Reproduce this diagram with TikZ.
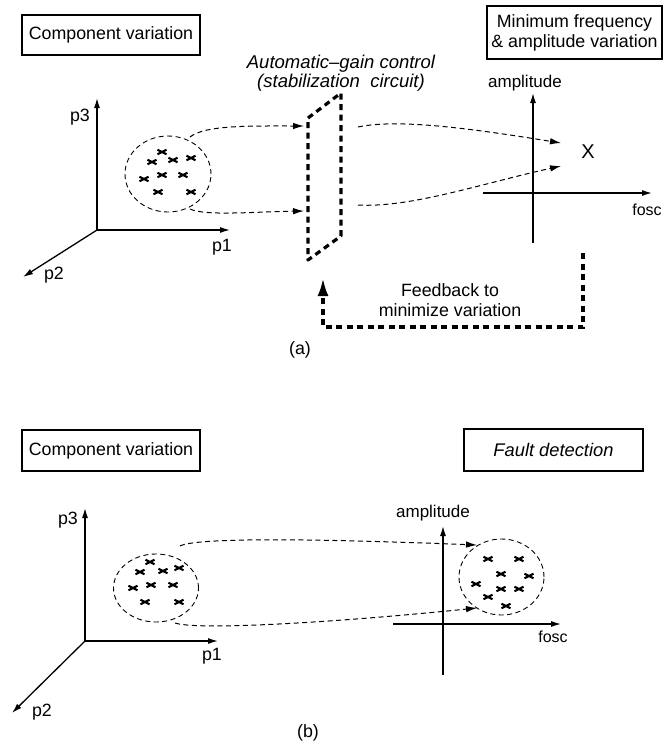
\documentclass[tikz,border=0pt]{standalone}
\usepackage{fontspec}
\setmainfont{Liberation Sans}
\usetikzlibrary{arrows.meta,shapes.geometric}
\begin{document}
\begin{tikzpicture}[x=1pt,y=-1pt,
  txt/.style={font=\fontsize{17.8}{20}\selectfont, inner sep=0pt, align=center},
  itx/.style={font=\fontsize{18.5}{19}\selectfont\itshape, inner sep=0pt, align=center},
  labelbox/.style={draw, line width=1.2pt, font=\fontsize{17.8}{20}\selectfont, align=center, inner sep=0pt},
  axis/.style={line width=1.3pt, -{Latex[length=10pt,width=6pt]}},
  cloud/.style={draw, ellipse, dash pattern=on 5pt off 3.5pt, line width=0.9pt, inner sep=0pt},
  flow/.style={line width=1pt, dash pattern=on 5pt off 3.5pt, -{Latex[length=11pt,width=6.5pt]}},
  agc/.style={line width=3.2pt, dash pattern=on 6pt off 4.5pt},
  bowtie/.pic={\draw[line width=2.1pt] (-4.5,-2.3)--(4.5,2.3) (-4.5,2.3)--(4.5,-2.3);}
]
\useasboundingbox (0,0) rectangle (672,748);

% ================= (a) =================
\node[labelbox, minimum width=178pt, minimum height=40pt] (cva) at (111,35) {Component variation};
\node[labelbox, minimum width=175pt, minimum height=53pt] (mfa) at (574.5,32.5) {Minimum frequency\\\& amplitude variation};

% 3D parameter axes
\coordinate (oa) at (97,230);
\coordinate (p3a) at (97,98);
\coordinate (p1a) at (230,230);
\coordinate (p2a) at (23,277);
\draw[axis] (oa) -- (p3a);
\draw[axis] (oa) -- (p1a);
\draw[axis] (oa) -- (p2a);
\node[txt] (lp3a) at (80,117) {p3};
\node[txt] (lp1a) at (222,247) {p1};
\node[txt] (lp2a) at (54,275) {p2};

% cluster
\node[cloud, minimum width=86pt, minimum height=76pt] (ca) at (168,174) {};
\foreach \px/\py in {162/152,152/162,173/160,191/158,144/179,162/175,183/175,158/192,191/192}
  \pic at (\px,\py) {bowtie};

% AGC plane
\coordinate (ptl) at (308,118);
\coordinate (ptr) at (341,93);
\coordinate (pbr) at (341,236);
\coordinate (pbl) at (308,260);
\draw[agc, line join=round] (ptl) -- (ptr) -- (pbr) -- (pbl) -- cycle;
\node[itx] (agcl) at (341,73) {Automatic--gain control\\(stabilization\ \ circuit)};

% flows into the AGC
\coordinate (s1) at (190,137);
\coordinate (e1) at (304,126);
\coordinate (s2) at (190,209);
\coordinate (e2) at (304,211);
\draw[flow] (s1) .. controls (205,125) and (250,126) .. (e1);
\draw[flow] (s2) .. controls (205,216) and (250,212) .. (e2);

% flows out of the AGC
\coordinate (s3) at (358,127);
\coordinate (e3) at (561,143);
\coordinate (s4) at (358,205);
\coordinate (e4) at (561,166);
\draw[flow] (s3) .. controls (400,118) and (480,130) .. (e3);
\draw[flow] (s4) .. controls (410,208) and (480,184) .. (e4);

% output axes
\coordinate (qa0) at (533,243);
\coordinate (qa1) at (533,93);
\coordinate (ha0) at (483,193);
\coordinate (ha1) at (652,193);
\draw[axis] (qa0) -- (qa1);
\draw[axis] (ha0) -- (ha1);
\node[txt, font=\fontsize{17}{20}\selectfont] (ampa) at (525,83) {amplitude};
\node[txt, font=\fontsize{16}{20}\selectfont] (fosca) at (647,210) {fosc};
\node[inner sep=0pt, font=\fontsize{20}{20}\selectfont] (xm) at (588,152) {X};

% feedback
\coordinate (fb0) at (583,253);
\coordinate (fb1) at (583,327);
\coordinate (fb2) at (323,327);
\coordinate (fb3) at (323,278);
\draw[agc, -{Latex[length=18pt,width=11pt]}] (fb0) -- (fb1) -- (fb2) -- (fb3);
\node[txt] (fbt) at (450,300) {Feedback to\\minimize variation};

\node[txt] (capa) at (300,350) {(a)};

% ================= (b) =================
\node[labelbox, minimum width=178pt, minimum height=41pt] (cvb) at (111,450.5) {Component variation};
\node[labelbox, minimum width=179pt, minimum height=42pt, font=\fontsize{18.3}{20}\selectfont\itshape] (fdb) at (553.5,450) {Fault detection};

\coordinate (ob) at (85,641);
\coordinate (p3b) at (85,508);
\coordinate (p1b) at (218,641);
\coordinate (p2b) at (12,713);
\draw[axis] (ob) -- (p3b);
\draw[axis] (ob) -- (p1b);
\draw[axis] (ob) -- (p2b);
\node[txt] (lp3b) at (68,520) {p3};
\node[txt] (lp1b) at (212,656) {p1};
\node[txt] (lp2b) at (42,712) {p2};

\node[cloud, minimum width=85pt, minimum height=68pt] (cb) at (156,588) {};
\foreach \px/\py in {150/562,140/572,163/571,179/568,133/588,151/585,173/585,145/602,179/602}
  \pic at (\px,\py) {bowtie};

\node[cloud, minimum width=85pt, minimum height=76pt] (cr) at (501.5,577) {};
\foreach \px/\py in {488/559,519/559,501/574,529/576,476/584,501/589,519/589,488/597,506/606}
  \pic at (\px,\py) {bowtie};

\coordinate (s5) at (180,546);
\coordinate (e5) at (477,545);
\coordinate (s6) at (175,623);
\coordinate (e6) at (477,608);
\draw[flow] (s5) .. controls (195,538) and (300,538) .. (e5);
\draw[flow] (s6) .. controls (195,630) and (320,624) .. (e6);

\coordinate (qb0) at (443,675);
\coordinate (qb1) at (443,526);
\coordinate (hb0) at (393,624);
\coordinate (hb1) at (561,624);
\draw[axis] (qb0) -- (qb1);
\draw[axis] (hb0) -- (hb1);
\node[txt, font=\fontsize{17}{20}\selectfont] (ampb) at (433,513) {amplitude};
\node[txt, font=\fontsize{16}{20}\selectfont] (foscb) at (553,637) {fosc};

\node[txt] (capb) at (308,733) {(b)};
\end{tikzpicture}
\end{document}
